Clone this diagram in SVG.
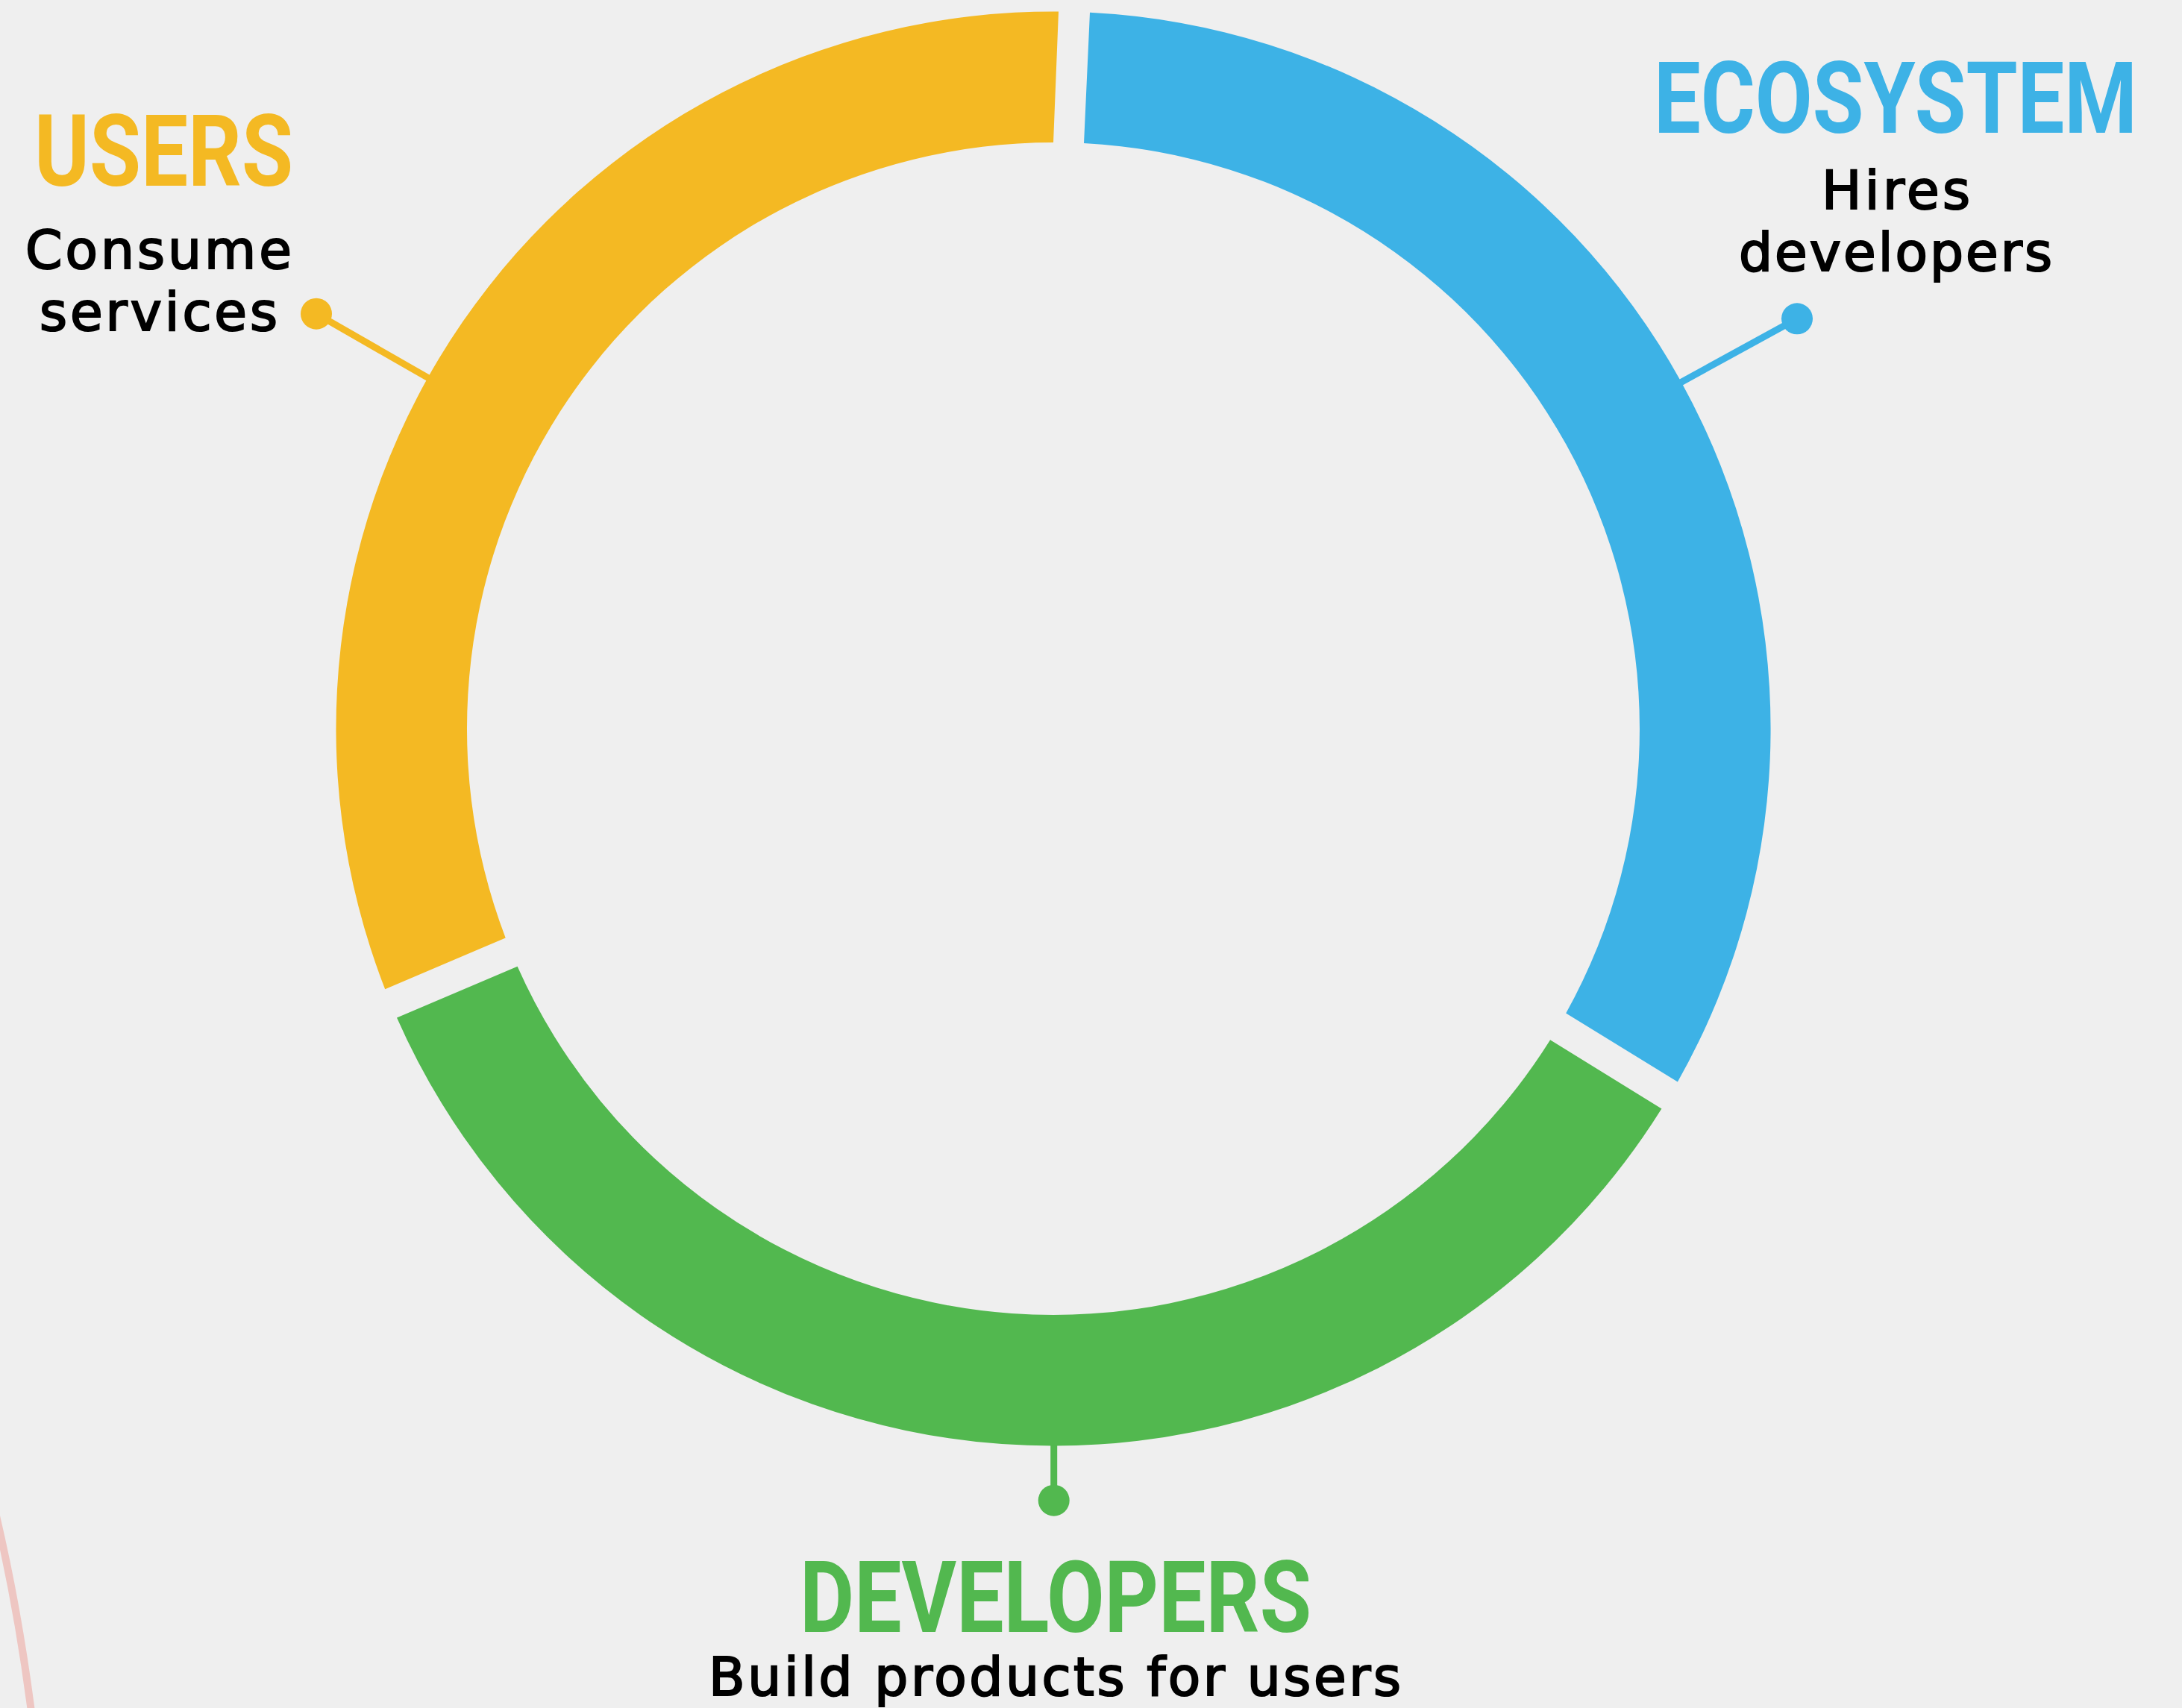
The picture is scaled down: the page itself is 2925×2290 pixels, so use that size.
<svg xmlns="http://www.w3.org/2000/svg" width="2925" height="2290" viewBox="0 0 2925 2290">
  <style>
    .title { font-family: Roboto, "Liberation Sans", sans-serif; font-weight: 700; font-size: 134px; }
    .desc { font-family: "DejaVu Sans", "Noto Sans", sans-serif; font-size: 71px; fill: #000000; stroke: #000000; stroke-width: 2.2; }
    .yellow { fill: #F4B923; }
    .blue { fill: #3DB2E6; }
    .green { fill: #52B84F; }
    .conn { stroke-width: 9; fill: none; }
  </style>
  <rect x="0" y="0" width="2925" height="2290" fill="#EFEFEF"/>
  <path d="M -8 2020 Q 23.1 2149.5 42 2295" fill="none" stroke="#EEC6C2" stroke-width="10"/>

  <g id="connectors">
    <line class="conn" x1="579.2" y1="509.6" x2="424" y2="420.7" stroke="#F4B923"/>
    <circle class="yellow" cx="424" cy="420.7" r="21"/>
    <line class="conn" x1="2248.1" y1="515.5" x2="2409" y2="427.3" stroke="#3DB2E6"/>
    <circle class="blue" cx="2409" cy="427.3" r="21"/>
    <line class="conn" x1="1412.7" y1="1930" x2="1412.7" y2="2011.7" stroke="#52B84F"/>
    <circle class="green" cx="1412.7" cy="2011.7" r="21"/>
  </g>

  <g id="users">
    <path class="yellow" d="M 1419 15.5 A 961.5 961.5 0 0 0 516.2 1326.3 L 677.7 1257.4 A 786 786 0 0 1 1412 191 Z"/>
    <text class="title yellow" x="46" y="249" textLength="347" lengthAdjust="spacingAndGlyphs">USERS</text>
    <text class="desc" x="34" y="360" textLength="357" lengthAdjust="spacing">Consume</text>
    <text class="desc" x="53" y="442.7" textLength="319" lengthAdjust="spacing">services</text>
  </g>

  <g id="ecosystem">
    <path class="blue" d="M 1461 16.75 A 961.5 961.5 0 0 1 2248.9 1450.5 L 2099.2 1358.5 A 786 786 0 0 0 1453 192.1 Z"/>
    <text class="title blue" x="2217" y="178.3" textLength="648" lengthAdjust="spacingAndGlyphs">ECOSYSTEM</text>
    <text class="desc" x="2442" y="280" textLength="199" lengthAdjust="spacing">Hires</text>
    <text class="desc" x="2331" y="362.7" textLength="420" lengthAdjust="spacing">developers</text>
  </g>

  <g id="developers">
    <path class="green" d="M 2227.4 1486.5 A 961.5 961.5 0 0 1 532 1364.4 L 693.6 1295.8 A 786 786 0 0 0 2078.1 1394.3 Z"/>
    <text class="title green" x="1072" y="2188.3" textLength="686" lengthAdjust="spacingAndGlyphs">DEVELOPERS</text>
    <text class="desc" x="950" y="2273.3" textLength="928" lengthAdjust="spacing">Build products for users</text>
  </g>
</svg>
